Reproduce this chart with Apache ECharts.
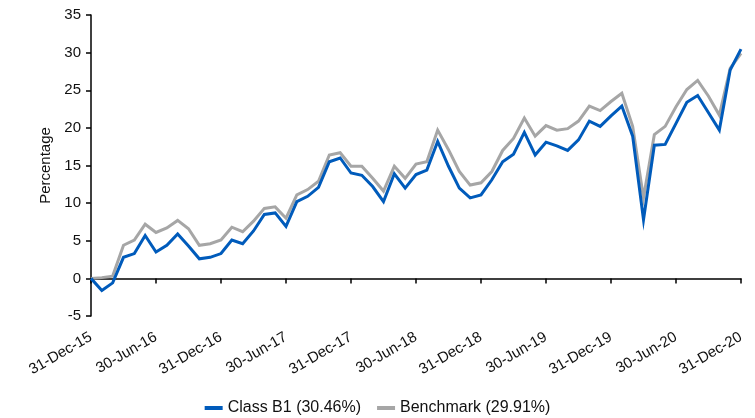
<!DOCTYPE html>
<html>
<head>
<meta charset="utf-8">
<script src="https://cdn.jsdelivr.net/npm/echarts@6/dist/echarts.min.js"></script>
<style>html,body{margin:0;padding:0;background:#fff;}#c{width:755px;height:418px;}</style>
</head>
<body>
<div id="c"></div>
<script>
var categories = [
  '31-Dec-15',
  '31-Jan-16','29-Feb-16','31-Mar-16','30-Apr-16','31-May-16','30-Jun-16','31-Jul-16','31-Aug-16','30-Sep-16','31-Oct-16','30-Nov-16','31-Dec-16',
  '31-Jan-17','28-Feb-17','31-Mar-17','30-Apr-17','31-May-17','30-Jun-17','31-Jul-17','31-Aug-17','30-Sep-17','31-Oct-17','30-Nov-17','31-Dec-17',
  '31-Jan-18','28-Feb-18','31-Mar-18','30-Apr-18','31-May-18','30-Jun-18','31-Jul-18','31-Aug-18','30-Sep-18','31-Oct-18','30-Nov-18','31-Dec-18',
  '31-Jan-19','28-Feb-19','31-Mar-19','30-Apr-19','31-May-19','30-Jun-19','31-Jul-19','31-Aug-19','30-Sep-19','31-Oct-19','30-Nov-19','31-Dec-19',
  '31-Jan-20','29-Feb-20','31-Mar-20','30-Apr-20','31-May-20','30-Jun-20','31-Jul-20','31-Aug-20','30-Sep-20','31-Oct-20','30-Nov-20','31-Dec-20'
];
var classB1 = [
  0, -1.6, -0.6, 2.8, 3.3, 5.7, 3.5, 4.4, 5.9, 4.3, 2.6, 2.8, 3.3,
  5.1, 4.6, 6.3, 8.5, 8.7, 6.9, 10.2, 10.9, 12.1, 15.5, 16.0, 14.0,
  13.7, 12.2, 10.2, 13.9, 12.0, 13.8, 14.4, 18.2, 14.9, 12.0, 10.7, 11.1,
  13.1, 15.5, 16.5, 19.4, 16.4, 18.1, 17.6, 17.0, 18.4, 20.9, 20.2, 21.6,
  22.9, 18.9, 7.8, 17.7, 17.8, 20.6, 23.4, 24.3, 22.0, 19.7, 27.7, 30.46
];
var benchmark = [
  0, 0.1, 0.3, 4.4, 5.1, 7.2, 6.1, 6.7, 7.7, 6.6, 4.4, 4.6, 5.1,
  6.8, 6.2, 7.6, 9.3, 9.5, 8.0, 11.1, 11.8, 12.9, 16.4, 16.7, 14.9,
  14.9, 13.3, 11.6, 14.9, 13.3, 15.2, 15.5, 19.7, 17.1, 14.2, 12.4, 12.7,
  14.2, 17.0, 18.6, 21.3, 18.9, 20.3, 19.7, 19.9, 20.9, 22.9, 22.3, 23.5,
  24.6, 20.2, 10.7, 19.1, 20.2, 22.8, 25.1, 26.3, 24.2, 21.7, 27.9, 29.91
];
var seriesNames = ['Class B1 (30.46%)', 'Benchmark (29.91%)'];
var yTicks = { min: -5, max: 35, interval: 5 };

var font = 'Liberation Sans, Arial, sans-serif';
var chart = echarts.init(document.getElementById('c'));
chart.setOption({
  animation: false,
  textStyle: { fontFamily: font },
  grid: { left: 91, right: 14, top: 15, bottom: 102, containLabel: false },
  legend: {
    data: seriesNames,
    top: 395,
    left: 'center',
    icon: 'rect',
    itemWidth: 18,
    itemHeight: 4,
    itemGap: 16,
    textStyle: { fontSize: 16, color: '#111', fontFamily: font }
  },
  xAxis: [{
    type: 'category',
    data: categories,
    boundaryGap: false,
    position: 'bottom',
    axisLine: { show: false, onZero: false },
    axisTick: { show: false },
    axisLabel: { interval: 5, rotate: 30, fontSize: 15, color: '#111', margin: 20, fontFamily: font }
  }, {
    type: 'category',
    data: categories,
    boundaryGap: false,
    position: 'bottom',
    axisLine: { show: true, onZero: true, lineStyle: { color: '#000', width: 1.5 } },
    axisTick: { show: true, interval: 5, length: 5, lineStyle: { color: '#000', width: 1.5 } },
    axisLabel: { show: false }
  }],
  yAxis: {
    type: 'value',
    min: yTicks.min,
    max: yTicks.max,
    interval: yTicks.interval,
    name: 'Percentage',
    nameLocation: 'middle',
    nameGap: 36,
    nameTextStyle: { fontSize: 15, color: '#111', fontFamily: font },
    axisLine: { show: true, lineStyle: { color: '#000', width: 1.5 } },
    axisTick: { show: true, length: 5, lineStyle: { color: '#000', width: 1.5 } },
    splitLine: { show: false },
    axisLabel: { fontSize: 15, color: '#111', margin: 10, fontFamily: font }
  },
  series: [{
    name: seriesNames[1],
    type: 'line',
    data: benchmark,
    showSymbol: false,
    symbol: 'none',
    color: '#a6a6a6',
    lineStyle: { width: 3, color: '#a6a6a6', join: 'miter' },
    z: 2
  }, {
    name: seriesNames[0],
    type: 'line',
    data: classB1,
    showSymbol: false,
    symbol: 'none',
    color: '#005bbb',
    lineStyle: { width: 3, color: '#005bbb', join: 'miter' },
    z: 3
  }]
});
</script>
</body>
</html>
